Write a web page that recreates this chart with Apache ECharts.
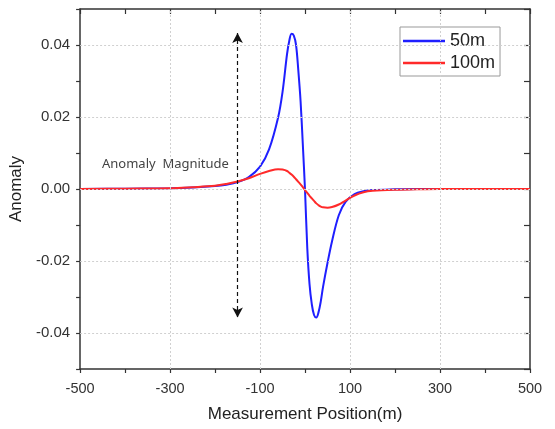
<!DOCTYPE html>
<html>
<head>
<meta charset="utf-8">
<script src="https://cdn.jsdelivr.net/npm/echarts@6/dist/echarts.min.js"></script>
<style>
html,body{margin:0;padding:0;background:#fff;}
#chart{width:555px;height:429px;}
</style>
</head>
<body>
<div id="chart"></div>
<script>
// Measurement positions (m)
var positions = [-500,-400,-300,-250,-200,-175,-150,-125,-100,-80,-60,-50,-40,-35,-30,-25,-20,-15,-10,-5,0,5,10,15,20,25,30,35,40,50,60,75,90,110,130,150,200,250,300,400,500];
// Anomaly for 50 m
var anomaly50 = [0,0.0001,0.0002,0.0004,0.0008,0.0012,0.0019,0.0033,0.0062,0.0110,0.0198,0.0270,0.0375,0.0412,0.0431,0.0426,0.0400,0.0330,0.0245,0.0125,-0.0005,-0.0165,-0.0265,-0.0320,-0.0350,-0.0357,-0.0342,-0.0312,-0.0272,-0.0205,-0.0145,-0.0073,-0.0036,-0.0014,-0.0006,-0.0003,-0.0001,0,0,0,0];
// Anomaly for 100 m
var anomaly100 = [0,0.0001,0.0002,0.0005,0.0009,0.0014,0.0021,0.0030,0.0042,0.0050,0.0055,0.0054,0.0050,0.0045,0.0040,0.0034,0.0027,0.0020,0.0013,0.0005,-0.0003,-0.0011,-0.0019,-0.0026,-0.0033,-0.0040,-0.0045,-0.0049,-0.0051,-0.0052,-0.0050,-0.0043,-0.0032,-0.0018,-0.0009,-0.0005,-0.0002,-0.0001,0,0,0];
var seriesNames = ['50m','100m'];
var xTickLabels = [-500,-300,-100,100,300,500];
var yTickLabels = [-0.04,-0.02,0.00,0.02,0.04];
var xGridLines = [-300,-100,100,300];
var yGridLines = [-0.04,-0.02,0.00,0.02,0.04];
// Anomaly magnitude arrow (position, top value, bottom value)
var arrowX = -150, arrowTop = 0.0433, arrowBottom = -0.0357;
var annotationText = 'Anomaly  Magnitude';

function pairs(xs, ys){ return xs.map(function(x,i){return [x, ys[i]];}); }
function isXLabel(v){ return xTickLabels.some(function(t){return Math.abs(t-v)<1e-6;}); }
function isYLabel(v){ return yTickLabels.some(function(t){return Math.abs(t-v)<1e-9;}); }

var chart = echarts.init(document.getElementById('chart'));
var axisColor = '#333';
var gridColor = '#d0d0d0';
var font = 'Liberation Sans, Arial, sans-serif';
chart.setOption({
  animation:false,
  backgroundColor:'#fff',
  grid:{left:80,right:25,top:9,bottom:60},
  legend:{
    orient:'vertical', left:400, top:27,
    data:seriesNames, icon:'rect',
    backgroundColor:'#fff', borderColor:'#999', borderWidth:1, borderRadius:0,
    padding:[5,5,4,3], itemGap:4, itemWidth:42, itemHeight:2.5,
    textStyle:{fontSize:18,color:'#222',fontFamily:font,lineHeight:18}
  },
  xAxis:[{
    type:'value', min:-500, max:500, interval:100, position:'bottom',
    name:'Measurement Position(m)', nameLocation:'middle', nameGap:37,
    nameTextStyle:{fontSize:17,color:'#222',fontFamily:font},
    axisLine:{show:true,onZero:false,lineStyle:{color:axisColor,width:1.5}},
    axisTick:{show:true,inside:false,length:4,lineStyle:{color:axisColor,width:1.2}},
    axisLabel:{fontSize:14.5,color:'#333',margin:12,fontFamily:font,
      formatter:function(v){return isXLabel(v)?String(v):'';}},
    splitLine:{show:false}
  },{
    type:'value', min:-500, max:500, interval:100, position:'top',
    axisLine:{show:true,onZero:false,lineStyle:{color:axisColor,width:1.5}},
    axisTick:{show:true,inside:true,length:5,lineStyle:{color:axisColor,width:1.2}},
    axisLabel:{show:false}, splitLine:{show:false}
  }],
  yAxis:[{
    type:'value', min:-0.05, max:0.05, interval:0.01, position:'left',
    name:'Anomaly', nameLocation:'middle', nameGap:53,
    nameTextStyle:{fontSize:17,color:'#222',fontFamily:font},
    axisLine:{show:true,onZero:false,lineStyle:{color:axisColor,width:1.5}},
    axisTick:{show:true,inside:false,length:4,lineStyle:{color:axisColor,width:1.2}},
    axisLabel:{fontSize:15,color:'#333',margin:10,fontFamily:font,
      formatter:function(v){return isYLabel(v)?v.toFixed(2):'';}},
    splitLine:{show:false}
  },{
    type:'value', min:-0.05, max:0.05, interval:0.01, position:'right',
    axisLine:{show:true,onZero:false,lineStyle:{color:axisColor,width:1.5}},
    axisTick:{show:true,inside:true,length:6,lineStyle:{color:axisColor,width:1.2}},
    axisLabel:{show:false}, splitLine:{show:false}
  }],
  graphic:[{
    type:'text', left:102, top:158,
    style:{text:annotationText,fontSize:13,fill:'#444',fontFamily:'Noto Sans, DejaVu Sans, sans-serif'}
  }],
  series:[{
    name:'grid', type:'line', data:[], z:1, silent:true,
    markLine:{
      silent:true, symbol:['none','none'], label:{show:false},
      lineStyle:{color:gridColor,type:[2,2],width:1},
      data: xGridLines.map(function(v){return {xAxis:v};})
        .concat(yGridLines.map(function(v){return {yAxis:v};}))
    }
  },{
    name:seriesNames[0], type:'line', data:pairs(positions, anomaly50),
    smooth:0.35, symbol:'none', lineStyle:{color:'#1f1fff',width:2}, itemStyle:{color:'#1f1fff'}, z:3,
    markLine:{
      silent:true, symbol:['arrow','arrow'], symbolSize:[8,10], label:{show:false},
      lineStyle:{color:'#111',type:[4,3],width:1.2},
      data:[[{coord:[arrowX,arrowTop]},{coord:[arrowX,arrowBottom]}]]
    }
  },{
    name:seriesNames[1], type:'line', data:pairs(positions, anomaly100),
    smooth:0.35, symbol:'none', lineStyle:{color:'#ff2a2a',width:2}, itemStyle:{color:'#ff2a2a'}, z:4
  }]
});
</script>
</body>
</html>
